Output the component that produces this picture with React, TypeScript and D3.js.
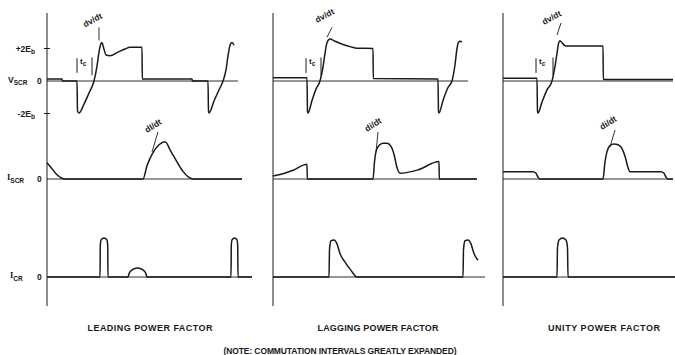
import React from "react";
import * as d3 from "d3";

type P = [number, number];

// ---- data (time units from each panel's vertical axis; V in Eb units; currents normalised) ----
const panelTitles = ["LEADING POWER FACTOR", "LAGGING POWER FACTOR", "UNITY POWER FACTOR"];
const noteText = "(NOTE:  COMMUTATION INTERVALS GREATLY EXPANDED)";
const vTickLabels = [
  { v: 2, sign: "+2E", sub: "b" },
  { v: -2, sign: "-2E", sub: "b" },
];

const vscrLeading: P[] = [
  [0, 0.12], [15, 0.12], [15.5, 0], [30, 0], [30.5, -1.85], [32, -1.97], [37, -1.42], [42, -0.74],
  [47, 0], [50, 0.92], [52, 1.78], [54, 2.3], [55, 2.36], [57, 1.95], [59, 1.6], [63, 1.56],
  [71, 1.78], [78, 1.97], [83, 2.08], [95, 2.08], [95.3, 0.12], [145, 0.12], [145.5, 0], [161, 0],
  [161.5, -1.85], [162, -1.97], [167, -1.23], [172, -0.55], [176, 0], [179, 0.68], [181, 1.54],
  [183, 2.2], [185, 2.37], [187, 2.2],
];
const vscrLagging: P[] = [
  [0, 0.2], [34, 0.2], [34.5, -1.85], [35, -1.97], [39, -1.2], [43, -0.5], [47, 0], [50, 0.85],
  [52, 1.7], [54, 2.35], [57, 2.58], [62, 2.45], [70, 2.25], [78, 2.1], [84, 2.02], [100, 2.0],
  [100.3, 0.15], [165, 0.12], [165.5, -1.85], [166, -1.97], [170, -1.2], [175, -0.4], [179, 0],
  [182, 1.0], [184, 2.0], [185.5, 2.38], [187, 2.45], [189, 2.42],
];
const vscrUnity: P[] = [
  [0, 0.17], [34, 0.17], [34.5, -1.85], [35, -1.97], [39, -1.3], [44, -0.55], [49, 0], [52, 0.9],
  [54, 1.7], [55.5, 2.3], [57, 2.48], [59, 2.35], [62, 2.18], [64, 2.15], [100, 2.15], [100.3, 0.1],
  [170, 0.1],
];

const iscrLeading: P[] = [
  [0, 0.43], [5, 0.27], [10, 0.11], [15, 0.02], [18, 0], [96, 0], [100, 0.35], [105, 0.65],
  [112, 0.9], [118, 0.98], [124, 0.72], [130, 0.45], [136, 0.2], [142, 0.04], [146, 0], [195, 0],
];
const iscrLagging: P[] = [
  [0, 0.08], [10, 0.14], [20, 0.23], [34, 0.39], [34.3, 0], [100, 0], [101.5, 0.45], [103, 0.72],
  [106, 0.88], [110, 0.94], [114, 0.94], [118, 0.86], [121, 0.65], [124, 0.3], [127, 0.15],
  [145, 0.24], [166, 0.46], [166.3, 0], [204, 0],
];
const iscrUnity: P[] = [
  [0, 0.19], [30, 0.19], [33, 0.15], [35, 0.05], [37, 0], [100, 0], [102, 0.45], [104, 0.72],
  [107, 0.88], [111, 0.92], [115, 0.9], [119, 0.8], [122, 0.6], [125, 0.3], [127, 0.19],
  [158, 0.19], [161, 0.15], [163, 0.05], [165, 0], [170, 0],
];

const icrLeading: P[] = [
  [0, 0], [53, 0], [53.3, 0.8], [54, 0.95], [57, 1.0], [60, 0.95], [60.7, 0.8], [61, 0], [81, 0],
  [82, 0.08], [84, 0.16], [87, 0.21], [90.5, 0.23], [94, 0.21], [97, 0.16], [99, 0.08], [100, 0],
  [184, 0], [184.3, 0.8], [185, 0.95], [187.5, 1.0], [190, 0.95], [190.7, 0.8], [191, 0], [205, 0],
];
const icrLagging: P[] = [
  [0, 0], [56, 0], [56.5, 0.7], [58, 0.93], [61, 0.95], [64, 0.85], [67, 0.6], [72, 0.38],
  [78, 0.17], [84, 0], [190, 0], [190.5, 0.7], [192, 0.93], [195, 0.95], [198, 0.85], [201, 0.6],
  [205, 0.43],
];
const icrUnity: P[] = [
  [0, 0], [54, 0], [54.5, 0.75], [56, 0.95], [59.5, 1.0], [63, 0.95], [64.5, 0.75], [65, 0], [172, 0],
];

// zero-axis extents per panel (time units)
const vZeroEnd = [191, 195, 170];
const iZeroEnd = [195, 204, 170];
const cZeroEnd = [205, 212, 172];

// annotation anchors: [labelT, labelV, leaderTopT, leaderTopV, tipT, tipV]
const dvdtMarks: number[][] = [
  [38, 3.3, 52, 3.3, 52, 2.5],
  [44, 3.57, 59, 3.3, 54, 2.7],
  [41, 3.45, 58, 3.57, 54, 2.83],
];
const didtMarks: number[][] = [
  [100, 1.21, 111, 1.24, 105, 0.71],
  [94, 1.24, 105, 1.24, 103, 0.71],
  [99, 1.29, 112, 1.29, 107, 0.84],
];
// t_c commutation interval bounds
const tcMarks: [number, number][] = [
  [30, 45],
  [33, 48],
  [33, 50],
];

const vSeries = [vscrLeading, vscrLagging, vscrUnity];
const iSeries = [iscrLeading, iscrLagging, iscrUnity];
const cSeries = [icrLeading, icrLagging, icrUnity];

// ---- layout ----
const W = 675;
const H = 355;
const panelX = [47, 273, 503];
const INK = "#1a1a1a";
const FONT = "'Liberation Sans', Arial, sans-serif";

export default function App() {
  const yV = d3.scaleLinear().domain([-2, 2]).range([113.5, 48.5]);
  const yI = d3.scaleLinear().domain([0, 1]).range([179, 141]);
  const yC = d3.scaleLinear().domain([0, 1]).range([277, 238]);
  const xs = panelX.map((ox) => d3.scaleLinear().domain([0, 200]).range([ox, ox + 200]));

  const mkLine = (x: d3.ScaleLinear<number, number>, y: d3.ScaleLinear<number, number>) =>
    d3
      .line<P>()
      .x((d) => x(d[0]))
      .y((d) => y(d[1]))
      .curve(d3.curveMonotoneX);

  const textStyle: React.CSSProperties = { fontFamily: FONT, fontWeight: 700, fill: INK };

  return (
    <svg
      width={W}
      height={H}
      viewBox={`0 0 ${W} ${H}`}
      style={{ position: "absolute", left: 0, top: 0, background: "#fff" }}
    >
      <rect x={0} y={0} width={W} height={H} fill="#fff" />
      {/* left axis labels */}
      {vTickLabels.map((t) => (
        <g key={t.sign}>
          <text x={35} y={yV(t.v) + 3} textAnchor="end" fontSize={8.5} style={textStyle}>
            {t.sign}
            <tspan fontSize={6.5} dy={2}>
              {t.sub}
            </tspan>
          </text>
          <line x1={panelX[0] - 3} x2={panelX[0] + 3} y1={yV(t.v)} y2={yV(t.v)} stroke={INK} strokeWidth={1} />
        </g>
      ))}
      <text x={8} y={yV(0) + 2} fontSize={8.5} style={textStyle}>
        V
        <tspan fontSize={6.5} dy={2}>
          SCR
        </tspan>
      </text>
      <text x={37} y={yV(0) + 3} fontSize={8.5} style={textStyle}>
        0
      </text>
      <text x={7} y={yI(0) + 1} fontSize={8.5} style={{ ...textStyle, fontFamily: "'Liberation Serif', serif" }}>
        I
        <tspan fontSize={6.5} dy={3} style={{ fontFamily: FONT }}>
          SCR
        </tspan>
      </text>
      <text x={37} y={yI(0) + 3} fontSize={8.5} style={textStyle}>
        0
      </text>
      <text x={10} y={yC(0) + 1} fontSize={8.5} style={{ ...textStyle, fontFamily: "'Liberation Serif', serif" }}>
        I
        <tspan fontSize={6.5} dy={3} style={{ fontFamily: FONT }}>
          CR
        </tspan>
      </text>
      <text x={37} y={yC(0) + 3} fontSize={8.5} style={textStyle}>
        0
      </text>

      {xs.map((x, p) => {
        const lv = mkLine(x, yV);
        const li = mkLine(x, yI);
        const lc = mkLine(x, yC);
        const dv = dvdtMarks[p];
        const di = didtMarks[p];
        const tc = tcMarks[p];
        return (
          <g key={p}>
            {/* vertical axis */}
            <line x1={x(0)} x2={x(0)} y1={13} y2={306} stroke={INK} strokeWidth={1} />
            {/* zero lines */}
            <line x1={x(0)} x2={x(vZeroEnd[p])} y1={yV(0)} y2={yV(0)} stroke={INK} strokeWidth={0.9} />
            <line x1={x(0)} x2={x(iZeroEnd[p])} y1={yI(0)} y2={yI(0)} stroke={INK} strokeWidth={0.9} />
            <line x1={x(0)} x2={x(cZeroEnd[p])} y1={yC(0)} y2={yC(0)} stroke={INK} strokeWidth={0.9} />
            {/* waveforms */}
            <path d={lv(vSeries[p]) || ""} fill="none" stroke={INK} strokeWidth={1.5} strokeLinejoin="round" />
            <path d={li(iSeries[p]) || ""} fill="none" stroke={INK} strokeWidth={1.5} strokeLinejoin="round" />
            <path d={lc(cSeries[p]) || ""} fill="none" stroke={INK} strokeWidth={1.5} strokeLinejoin="round" />
            {/* t_c marks */}
            <line x1={x(tc[0])} x2={x(tc[0])} y1={yV(1.4)} y2={yV(0.5)} stroke={INK} strokeWidth={1} />
            <line x1={x(tc[1])} x2={x(tc[1])} y1={yV(1.45)} y2={yV(0.35)} stroke={INK} strokeWidth={1} />
            <text x={x(tc[0]) + 3} y={yV(1.05)} fontSize={8} style={textStyle}>
              t
              <tspan fontSize={6.5} dy={2.5}>
                c
              </tspan>
            </text>
            {/* dv/dt */}
            <line x1={x(dv[2])} x2={x(dv[4])} y1={yV(dv[3])} y2={yV(dv[5])} stroke={INK} strokeWidth={0.9} />
            <text
              x={x(dv[0])}
              y={yV(dv[1])}
              fontSize={8.5}
              style={textStyle}
              transform={`rotate(-28 ${x(dv[0])} ${yV(dv[1])})`}
            >
              dv/dt
            </text>
            {/* di/dt */}
            <line x1={x(di[2])} x2={x(di[4])} y1={yI(di[3])} y2={yI(di[5])} stroke={INK} strokeWidth={0.9} />
            <text
              x={x(di[0])}
              y={yI(di[1])}
              fontSize={8.5}
              style={textStyle}
              transform={`rotate(-32 ${x(di[0])} ${yI(di[1])})`}
            >
              {p === 0 ? "dI/dt" : "di/dt"}
            </text>
          </g>
        );
      })}

      {/* titles */}
      {panelTitles.map((t, i) => (
        <text
          key={t}
          x={[150, 378, 604][i]}
          y={331}
          textAnchor="middle"
          fontSize={9}
          style={textStyle}
          textLength={[125, 121, 112][i]}
          lengthAdjust="spacing"
        >
          {t}
        </text>
      ))}
      <text x={340} y={354} textAnchor="middle" fontSize={8.5} style={textStyle} textLength={233} lengthAdjust="spacing">
        {noteText}
      </text>
    </svg>
  );
}
